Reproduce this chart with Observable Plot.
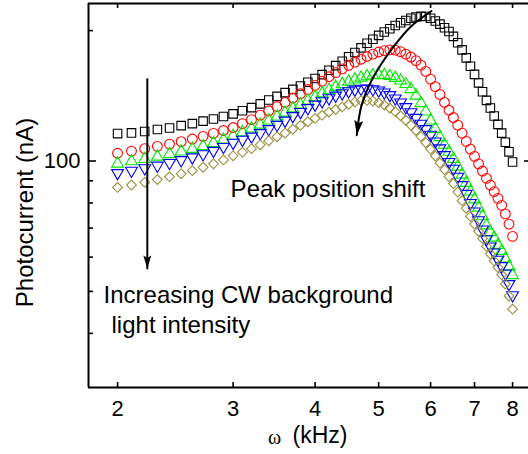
<!DOCTYPE html>
<html>
<head>
<meta charset="utf-8">
<script src="https://cdn.jsdelivr.net/npm/d3@7"></script>
<script src="https://cdn.jsdelivr.net/npm/@observablehq/plot@0.6"></script>
<style>
  body { margin: 0; background: #fff; }
  svg { display: block; }
</style>
</head>
<body>
<div id="chart"></div>
<script>
// ---- data (frequency in kHz, photocurrent in nA) ----
const freq = [2.0,2.1,2.2,2.3,2.4,2.5,2.6,2.7,2.8,2.9,
  3.0,3.1,3.2,3.3,3.4,3.5,3.6,3.7,3.8,3.9,
  4.0,4.1,4.2,4.3,4.4,4.5,4.6,4.7,4.8,4.9,
  5.0,5.1,5.2,5.3,5.4,5.5,5.6,5.7,5.8,5.9,
  6.0,6.1,6.2,6.3,6.4,6.5,6.6,6.7,6.8,6.9,
  7.0,7.1,7.2,7.3,7.4,7.5,7.6,7.7,7.8,7.9,
  8.0];

const blackSquares = [115.7,116.1,117.0,118.2,119.2,120.7,122.0,123.6,125.0,126.7,
  128.5,130.6,132.8,135.5,138.3,141.0,143.8,146.3,149.0,152.0,
  155.0,158.3,162.0,166.0,170.0,174.0,178.0,182.5,187.0,191.0,
  195.0,198.5,202.0,205.5,208.5,211.0,213.5,215.0,215.8,215.5,
  213.5,210.5,207.0,203.0,199.0,194.0,187.5,180.5,173.0,165.5,
  158.5,151.5,144.5,138.0,132.5,127.0,121.5,116.0,110.5,105.0,
  99.5];

const redCircles = [104.2,105.4,106.8,108.1,109.4,110.8,112.4,114.0,115.8,117.6,
  119.5,122.0,124.6,127.6,130.6,133.5,136.5,139.8,143.0,146.2,
  149.5,152.8,156.5,160.0,163.2,166.3,169.2,171.8,174.3,176.5,
  178.5,179.8,180.5,180.3,178.8,176.5,173.8,170.5,166.5,161.0,
  154.5,148.5,142.5,136.5,131.0,126.0,121.0,116.0,111.0,106.5,
  102.5,98.5,94.8,91.2,88.0,85.0,82.0,79.0,75.5,71.5,
  67.0];

const greenUp = [98.6,99.8,101.0,102.3,103.7,105.1,106.6,108.2,110.0,112.0,
  114.3,116.5,118.8,121.3,124.0,126.6,129.3,132.2,135.0,137.8,
  140.5,143.2,145.8,148.2,150.4,152.4,154.2,155.7,156.9,157.7,
  158.0,157.8,157.0,155.5,153.3,150.5,146.5,141.5,136.0,130.0,
  124.0,118.5,113.5,109.0,105.0,101.0,97.0,93.0,89.0,85.0,
  81.5,78.0,74.5,71.0,68.5,66.5,64.0,62.0,59.5,57.0,
  54.5];

const blueDown = [93.8,95.0,96.3,97.6,99.0,100.5,102.0,103.7,105.6,107.8,
  110.2,112.0,113.9,116.0,118.5,121.2,124.0,127.0,129.8,132.5,
  135.0,137.4,139.6,141.6,143.4,145.0,146.2,146.9,147.0,146.5,
  145.5,144.0,142.0,139.5,136.5,133.2,129.6,125.8,122.0,118.5,
  115.0,111.0,107.0,103.2,99.5,96.0,92.0,88.0,84.0,80.0,
  76.5,73.0,69.5,66.0,63.5,61.5,59.2,57.2,55.0,52.0,
  49.0];

const oliveDiamonds = [86.9,88.0,89.3,90.6,92.0,93.4,95.0,96.7,98.5,100.6,
  102.8,104.8,106.8,109.0,111.3,113.7,116.0,118.4,120.8,123.2,
  125.4,127.6,129.7,131.5,133.3,135.2,136.8,137.8,138.0,137.5,
  136.3,134.6,132.5,130.0,127.2,124.2,121.0,117.6,114.0,110.2,
  106.5,102.7,99.0,95.5,92.0,88.7,84.8,81.0,77.8,74.5,
  71.5,68.8,66.2,63.5,61.0,58.8,56.8,54.6,52.0,48.8,
  45.5];

// ---- ticks ----
const xTicks = [2, 3, 4, 5, 6, 7, 8];
const yMajorTicks = [100];
const yMinorTicks = [40, 50, 60, 70, 80, 90, 200];

// ---- annotations (data coordinates) ----
const shiftArrowX = [6.02, 5.59, 5.25, 5.00, 4.83, 4.71, 4.66, 4.63];
const shiftArrowY = [222.0, 203.9, 182.3, 163.9, 148.9, 134.6, 124.2, 114.7];
const intensityArrowX = [2.22, 2.22];
const intensityArrowY = [154.5, 56.5];
const annoTexts = ["Peak position shift", "Increasing CW background", "light intensity"];
const annoX = [2.974, 1.904, 1.958];
const annoY = [85.9, 48.9, 41.8];

// ---- build tables ----
const seriesDefs = [
  {name: "s1", values: blackSquares, symbol: "square", color: "#000000", r: 4.8},
  {name: "s2", values: redCircles, symbol: "circle", color: "#ff0000", r: 4.9},
  {name: "s3", values: greenUp, symbol: "triangle", color: "#00e600", r: 4.4},
  {name: "s4", values: blueDown, symbol: "tridown", color: "#0000ff", r: 4.4},
  {name: "s5", values: oliveDiamonds, symbol: "diamond2", color: "#9a9040", r: 4.4}
];

const sqrt3 = Math.sqrt(3);
const triangleDown = {
  draw(ctx, size) {
    const y = Math.sqrt(size / (sqrt3 * 3));
    ctx.moveTo(0, y * 2);
    ctx.lineTo(-sqrt3 * y, -y);
    ctx.lineTo(sqrt3 * y, -y);
    ctx.closePath();
  }
};
function arrowHead(angleDeg, L, w) {
  const a = angleDeg * Math.PI / 180, c = Math.cos(a), s = Math.sin(a);
  const pts = [[0, 0], [-w, -L], [0, -0.8 * L], [w, -L]].map(([x, y]) => [x * c - y * s, x * s + y * c]);
  return {
    draw(ctx) {
      ctx.moveTo(pts[0][0], pts[0][1]);
      for (let i = 1; i < pts.length; i++) ctx.lineTo(pts[i][0], pts[i][1]);
      ctx.closePath();
    }
  };
}

const shiftRows = shiftArrowX.map((x, i) => ({x, y: shiftArrowY[i]}));
const intensityRows = intensityArrowX.map((x, i) => ({x, y: intensityArrowY[i]}));
const annoRows = annoTexts.map((t, i) => ({t, x: annoX[i], y: annoY[i]}));

const dotMarks = seriesDefs.map(s => {
  const rows = freq.map((f, i) => ({f, v: s.values[i]}));
  return Plot.dot(rows, {
    x: "f", y: "v",
    symbol: s.symbol === "tridown" ? triangleDown : s.symbol,
    r: s.r, stroke: s.color, strokeWidth: 1.1, fill: "none"
  });
});

const W = 528, H = 454;
const frameH = H - 3 - 67;
const frameW = W - 88;

const chart = Plot.plot({
  width: W,
  height: H,
  marginLeft: 88,
  marginRight: 0,
  marginTop: 3,
  marginBottom: 67,
  style: {fontFamily: "Arial, 'Liberation Sans', sans-serif", background: "#fff", color: "#000", overflow: "visible"},
  x: {type: "log", domain: [1.806, 8.46], axis: null},
  y: {type: "log", domain: [30, 231], axis: null},
  marks: [
    ...dotMarks,
    // frame
    Plot.ruleY([30, 231], {stroke: "#000", strokeWidth: 2}),
    Plot.ruleX([1.806], {stroke: "#000", strokeWidth: 2}),
    // inward ticks
    Plot.tickX(xTicks, {x: d => d, insetTop: frameH - 5, stroke: "#000", strokeWidth: 1.6}),
    Plot.tickX(xTicks, {x: d => d, insetBottom: frameH - 5, stroke: "#000", strokeWidth: 1.6}),
    Plot.tickY(yMinorTicks, {y: d => d, insetRight: frameW - 5, stroke: "#000", strokeWidth: 1.6}),
    Plot.tickY(yMajorTicks, {y: d => d, insetRight: frameW - 8, stroke: "#000", strokeWidth: 1.6}),
    Plot.tickY(yMajorTicks, {y: d => d, insetLeft: frameW - 4, stroke: "#000", strokeWidth: 1.6}),
    // tick labels
    Plot.text(xTicks, {x: d => d, frameAnchor: "bottom", lineAnchor: "top", dy: 13, text: d => String(d), fontSize: 22}),
    Plot.text(yMajorTicks, {y: d => d, frameAnchor: "left", textAnchor: "end", lineAnchor: "middle", dx: -8, text: d => String(d), fontSize: 22}),
    // axis titles
    Plot.text(["Photocurrent (nA)"], {frameAnchor: "left", rotate: -90, dx: -63, dy: 17, fontSize: 24, textAnchor: "middle", lineAnchor: "middle"}),
    Plot.text(["\u03c9"], {frameAnchor: "bottom", lineAnchor: "middle", dx: -34, dy: 50, fontSize: 20, fontFamily: "'Liberation Serif', 'DejaVu Serif', serif"}),
    Plot.text(["(kHz)"], {frameAnchor: "bottom", lineAnchor: "middle", textAnchor: "start", dx: -16, dy: 48, fontSize: 23}),
    // annotations
    Plot.line(intensityRows, {x: "x", y: "y", stroke: "#000", strokeWidth: 2}),
    Plot.dot([intensityRows[1]], {x: "x", y: "y", symbol: arrowHead(0, 13, 4), r: 5, fill: "#000", stroke: "none"}),
    Plot.line(shiftRows, {x: "x", y: "y", curve: "catmull-rom", stroke: "#000", strokeWidth: 2}),
    Plot.dot([shiftRows[shiftRows.length - 1]], {x: "x", y: "y", symbol: arrowHead(8, 15, 4.5), r: 5, fill: "#000", stroke: "none"}),
    Plot.text(annoRows, {x: "x", y: "y", text: "t", textAnchor: "start", lineAnchor: "middle", fontSize: 24, fill: "#000"})
  ]
});

document.getElementById("chart").appendChild(chart);
</script>
</body>
</html>
